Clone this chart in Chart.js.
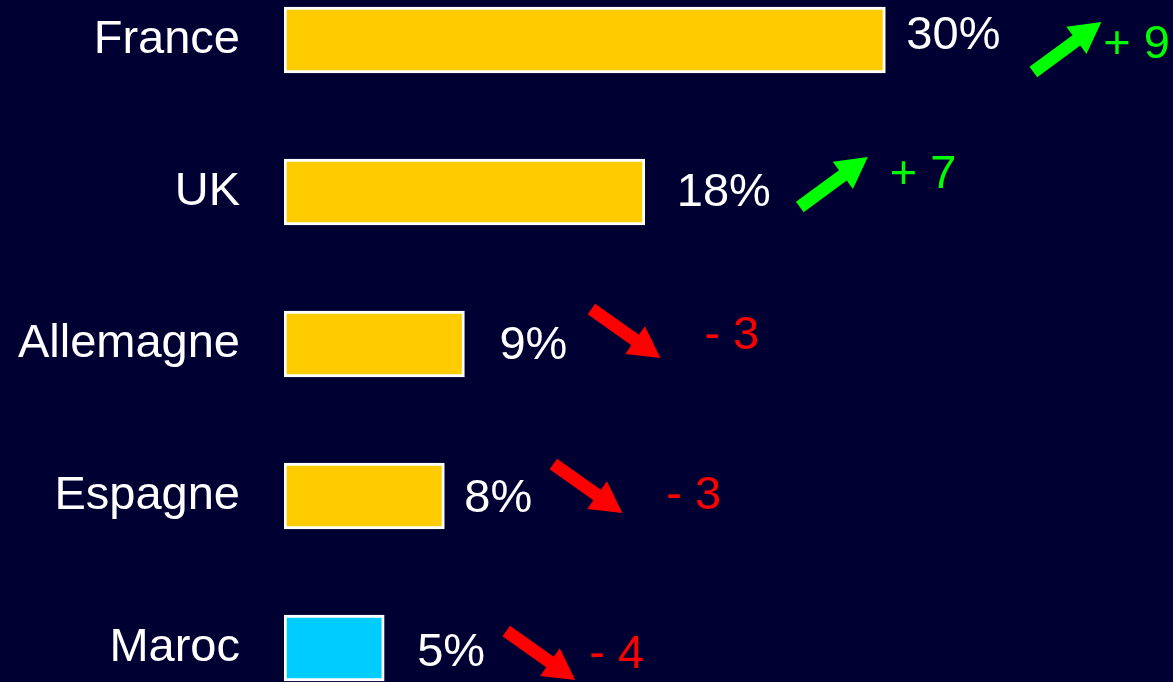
<!DOCTYPE html>
<html>
<head>
<meta charset="utf-8">
<script src="https://cdn.jsdelivr.net/npm/chart.js@4"></script>
<style>
  html, body { margin: 0; padding: 0; background: #000033; overflow: hidden; }
  #wrap { position: absolute; left: 0; top: -36px; width: 1173px; height: 760px; }
</style>
</head>
<body>
<div id="wrap"><canvas id="barChart" width="1173" height="760"></canvas></div>
<script>
// parts de marché par pays et évolution
const countries = ["France", "UK", "Allemagne", "Espagne", "Maroc"];
const shares = [30, 18, 9, 8, 5];
const changes = [9, 7, -3, -3, -4];

const FONT = "'Liberation Sans', Arial, sans-serif";

// décalages des étiquettes / flèches, par ligne
const labelGap = [21, 32, 35, 20, 33];
const labelDy = [-4, 1, 2, 3, 5];
const arrowDx = [148, 155, 127, 109, 122];
const arrowDy = [32, 15, -35, -32, -17];
const textDx = [218, 245, 240, 222, 205];
const textDy = [5, -17, -8, 0, 7];

function drawArrow(ctx, x0, y0, x1, y1, color) {
  const dx = x1 - x0, dy = y1 - y0;
  const len = Math.sqrt(dx * dx + dy * dy);
  const ux = dx / len, uy = dy / len;
  const px = -uy, py = ux;
  const headLen = 31, headW = 17, shaftW = 6.5;
  const bx = x1 - ux * headLen, by = y1 - uy * headLen;
  ctx.beginPath();
  ctx.moveTo(x0 + px * shaftW, y0 + py * shaftW);
  ctx.lineTo(bx + px * shaftW, by + py * shaftW);
  ctx.lineTo(bx + px * headW, by + py * headW);
  ctx.lineTo(x1, y1);
  ctx.lineTo(bx - px * headW, by - py * headW);
  ctx.lineTo(bx - px * shaftW, by - py * shaftW);
  ctx.lineTo(x0 - px * shaftW, y0 - py * shaftW);
  ctx.closePath();
  ctx.fillStyle = color;
  ctx.fill();
}

const labelsPlugin = {
  id: "labelsPlugin",
  afterDatasetsDraw(chart) {
    const ctx = chart.ctx;
    const meta = chart.getDatasetMeta(0);
    ctx.save();
    ctx.font = "47px " + FONT;
    ctx.textBaseline = "middle";
    ctx.textAlign = "left";
    meta.data.forEach((bar, i) => {
      const x = bar.x, y = bar.y;
      ctx.fillStyle = "#ffffff";
      ctx.fillText(shares[i] + "%", x + labelGap[i], y + labelDy[i]);

      const up = changes[i] > 0;
      const color = up ? "#00ff00" : "#ff0000";
      const sx = x + arrowDx[i], sy = y + arrowDy[i];
      if (up) {
        drawArrow(ctx, sx, sy, sx + 68, sy - 50, color);
      } else {
        drawArrow(ctx, sx, sy, sx + 69, sy + 49, color);
      }
      ctx.fillStyle = color;
      const txt = (up ? "+ " : "- ") + Math.abs(changes[i]);
      ctx.fillText(txt, x + textDx[i], y + textDy[i]);
    });
    ctx.restore();
  }
};

var ctx = document.getElementById("barChart").getContext("2d");
var barChart = new Chart(ctx, {
  type: "bar",
  data: {
    labels: countries,
    datasets: [{
      data: shares,
      backgroundColor: ["#ffcc00", "#ffcc00", "#ffcc00", "#ffcc00", "#00ccff"],
      borderColor: "#ffffff",
      borderWidth: 3,
      borderSkipped: false,
      barThickness: 66
    }]
  },
  options: {
    indexAxis: "y",
    responsive: false,
    animation: false,
    events: [],
    layout: { padding: { left: 0, right: 7, top: 0, bottom: 0 } },
    plugins: {
      legend: { display: false },
      tooltip: { enabled: false }
    },
    scales: {
      x: {
        display: false,
        min: 0,
        max: 44
      },
      y: {
        grid: {
          display: true,
          drawOnChartArea: false,
          drawTicks: true,
          tickLength: 44,
          color: "rgba(0,0,0,0)"
        },
        border: { display: false },
        ticks: {
          color: "#ffffff",
          padding: 0,
          font: { family: FONT, size: 47 }
        },
        afterFit(scale) {
          scale.width = 284;
          scale.paddingTop = 0;
          scale.paddingBottom = 0;
        }
      }
    }
  },
  plugins: [labelsPlugin]
});
</script>
</body>
</html>
